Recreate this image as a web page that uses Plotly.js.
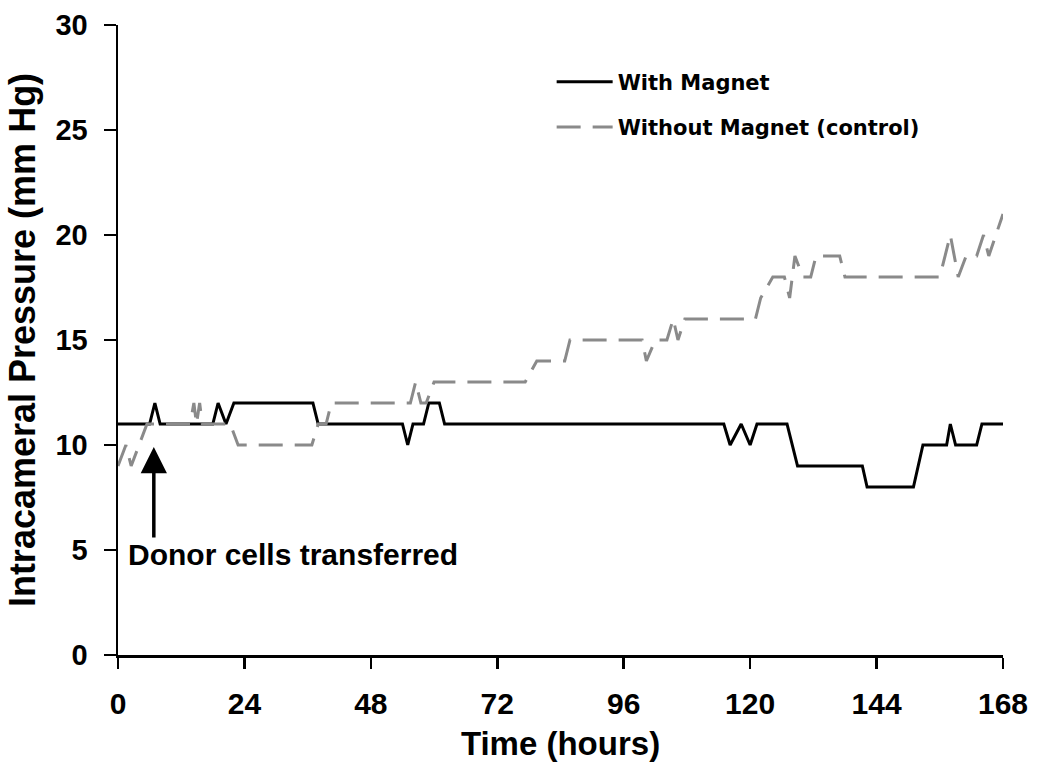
<!DOCTYPE html>
<html>
<head>
<meta charset="utf-8">
<script src="https://cdn.plot.ly/plotly-3.0.1.min.js"></script>
<style>html,body{margin:0;padding:0;background:#fff;}#chart{width:1050px;height:776px;}</style>
</head>
<body>
<div id="chart"></div>
<script>
// With Magnet (hours, mm Hg)
var magnetHours = [0,6,7,8,18,19,20.5,22,37,38,54,55,56,58,59,61,62,115,116.2,118.3,120,121.3,127,129,141.3,142.2,151,152.8,157.3,158,159,163,164,168];
var magnetPressure = [11,11,12,11,11,12,11,12,12,11,11,10,11,11,12,12,11,11,10,11,10,11,11,9,9,8,8,10,10,11,10,10,11,11];

// Without Magnet (control)
var controlHours = [0,1.5,2.5,4,5.5,13.7,14.4,14.9,15.5,16,21.3,22.8,36.8,38,39.5,40.5,55.5,56.5,57.5,58.5,60,77.3,79.5,84.8,85.8,99.5,100.3,102,104.2,105.4,106.3,107.6,121,122,124.3,126.5,127.5,128.5,130,131.5,132.5,137,138,156,158,159.5,161,163,164.3,165.3,168];
var controlPressure = [9,10,9,10,11,11,12,11,12,11,11,10,10,11,11,12,12,13,12,12,13,13,14,14,15,15,14,15,15,16,15,16,16,17,18,18,17,19,18,18,19,19,18,18,20,18,19,19,20,19,21];

var xTicks = [0,24,48,72,96,120,144,168];
var yTicks = [0,5,10,15,20,25,30];
var seriesNames = ['With Magnet', 'Without Magnet (control)'];
var annotationText = 'Donor cells transferred';
var transferHour = 6.8;

var arial = 'Liberation Sans, Arial, Helvetica, sans-serif';

var traces = [
  {x: magnetHours, y: magnetPressure, type: 'scatter', mode: 'lines', name: seriesNames[0],
   legendgroup: 'a', line: {color: '#000000', width: 3}},
  {x: controlHours, y: controlPressure, type: 'scatter', mode: 'lines', name: seriesNames[1],
   legendgroup: 'b', line: {color: '#8a8a8a', width: 3, dash: '24px,12px'}}
];

var layout = {
  width: 1050, height: 776,
  margin: {l: 118, r: 47, t: 25, b: 121},
  paper_bgcolor: '#ffffff', plot_bgcolor: '#ffffff',
  showlegend: true,
  legend: {x: 0.49, y: 0.942, xanchor: 'left', yanchor: 'top', bgcolor: 'rgba(0,0,0,0)',
           traceorder: 'grouped', tracegroupgap: 15, itemwidth: 56,
           font: {family: 'DejaVu Sans, Verdana, sans-serif', size: 21, color: '#000', weight: 'bold'}},
  xaxis: {range: [0, 168], tickvals: xTicks, ticktext: xTicks.map(String),
          showline: true, linecolor: '#000', linewidth: 2.5, mirror: false,
          ticks: 'outside', ticklen: 11, tickwidth: 2.5, tickcolor: '#000',
          ticklabelstandoff: 9,
          showgrid: false, zeroline: false, fixedrange: true, automargin: false,
          tickfont: {family: arial, size: 30, color: '#000', weight: 'bold'},
          title: {text: 'Time (hours)', font: {family: arial, size: 33, color: '#000', weight: 'bold'}, standoff: 14}},
  yaxis: {range: [0, 30], tickvals: yTicks, ticktext: yTicks.map(String),
          showline: true, linecolor: '#000', linewidth: 2.5,
          ticks: 'outside', ticklen: 12, tickwidth: 2.5, tickcolor: '#000',
          ticklabelstandoff: 10,
          showgrid: false, zeroline: false, fixedrange: true,
          tickfont: {family: arial, size: 29, color: '#000', weight: 'bold'},
          title: {text: 'Intracameral Pressure (mm Hg)', font: {family: arial, size: 36, color: '#000', weight: 'bold'}}},
  annotations: [
    {x: transferHour, y: 9.9, xref: 'x', yref: 'y', text: '', showarrow: true,
     ax: 0, ay: 92, arrowhead: 2, arrowsize: 1.5, arrowwidth: 3.5, arrowcolor: '#000'},
    {x: 1.6, y: 4.8, xref: 'x', yref: 'y', text: annotationText, showarrow: false,
     xanchor: 'left', yanchor: 'middle',
     font: {family: arial, size: 30, color: '#000', weight: 'bold'}}
  ]
};

Plotly.newPlot('chart', traces, layout, {displayModeBar: false, staticPlot: true});
</script>
</body>
</html>
